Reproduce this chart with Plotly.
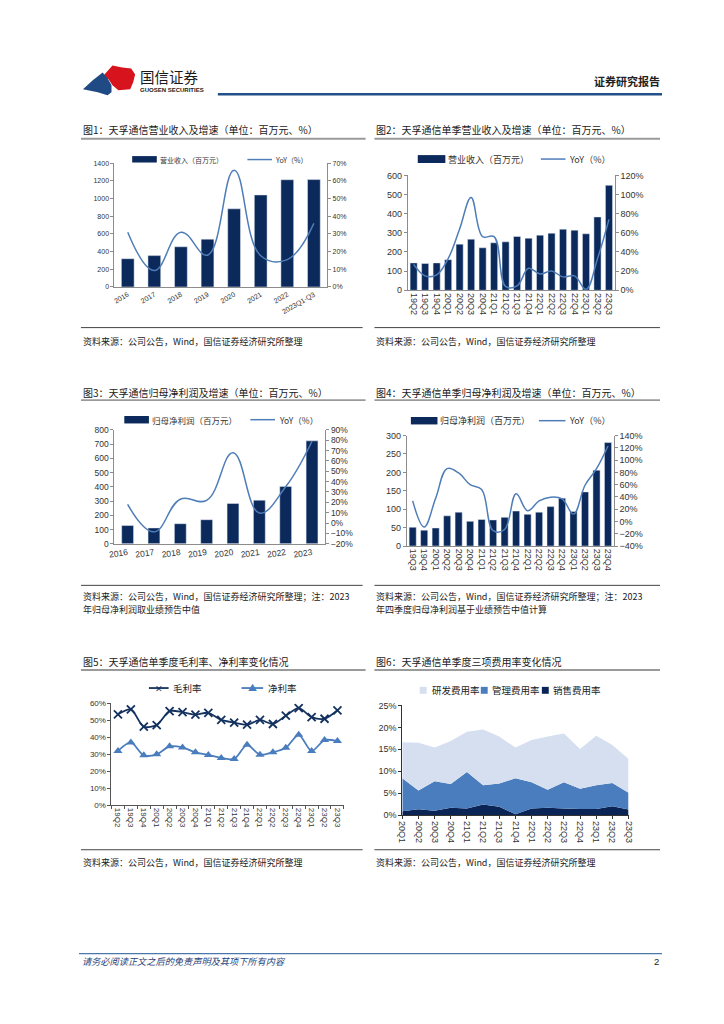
import plotly.graph_objects as go

W, H = 724, 1024
def X(px): return px / W
def Y(py): return 1 - py / H

# ---------------- data ----------------
years1 = ["2016", "2017", "2018", "2019", "2020", "2021", "2022", "2023Q1-Q3"]
rev_annual = [320, 355, 455, 541, 884, 1041, 1213, 1215]
rev_annual_yoy = [31, 9.3, 31, 18, 66, 17.7, 15.5, 36]

quarters2 = ["19Q2", "19Q3", "19Q4", "20Q1", "20Q2", "20Q3", "20Q4", "21Q1", "21Q2",
             "21Q3", "21Q4", "22Q1", "22Q2", "22Q3", "22Q4", "23Q1", "23Q2", "23Q3"]
rev_q = [143, 140, 143, 160, 241, 267, 222, 248, 253, 281, 272, 288, 298, 319, 314, 295, 383, 548]
rev_q_yoy = [27, 15, 16, 33, 64, 97, 56, 56, 4, 4.5, 23, 17, 20, 14, 15, 1, 33, 74]

years3 = ["2016", "2017", "2018", "2019", "2020", "2021", "2022", "2023"]
np_annual = [128, 111, 141, 169, 283, 306, 403, 723]
np_annual_yoy = [18, -8.5, 23, 22, 68, 9.7, 35, 79]

quarters4 = ["19Q3", "19Q4", "20Q1", "20Q2", "20Q3", "20Q4", "21Q1", "21Q2", "21Q3",
             "21Q4", "22Q1", "22Q2", "22Q3", "22Q4", "23Q1", "23Q2", "23Q3", "23Q4"]
np_q = [51, 43, 49, 82, 92, 67, 72, 71, 78, 95, 86, 92, 107, 130, 94, 147, 206, 281]
np_q_yoy = [33.6, -9, 38, 86, 79, 60, 52, -15, -13, 45, 17.5, 33.6, 39.6, 37, 12, 59, 86, 123]

quarters5 = ["19Q2", "19Q3", "19Q4", "20Q1", "20Q2", "20Q3", "20Q4", "21Q1", "21Q2",
             "21Q3", "21Q4", "22Q1", "22Q2", "22Q3", "22Q4", "23Q1", "23Q2", "23Q3"]
gross_margin = [53.6, 56.5, 46.3, 47.3, 55.5, 54.9, 53.4, 54.5, 50.3, 48.7, 47.5, 50.3, 47.9, 52.8, 57.3, 52, 51, 56]
net_margin = [32, 37, 29.4, 30, 34.7, 34.1, 31.2, 29.6, 27.9, 27.3, 35.6, 29.8, 31.2, 33.9, 41.5, 32, 38.4, 37.8]

quarters6 = ["20Q1", "20Q2", "20Q3", "20Q4", "21Q1", "21Q2", "21Q3", "21Q4",
             "22Q1", "22Q2", "22Q3", "22Q4", "23Q1", "23Q2", "23Q3"]
sales_rate = [0.9, 1.35, 1.0, 1.7, 1.5, 2.4, 1.9, 0.2, 1.5, 1.7, 1.5, 1.4, 1.4, 2.0, 1.3]
admin_rate = [7.5, 4.25, 6.7, 5.4, 8.3, 4.4, 5.3, 8.2, 6.0, 4.1, 6.0, 4.6, 5.4, 5.3, 3.8]
rd_rate = [8.2, 10.9, 7.7, 9.8, 9.2, 12.7, 10.7, 7.0, 9.6, 12.1, 11.1, 9.1, 11.3, 8.7, 7.7]

# ---------------- styles ----------------
NAVY = "#0b2a5b"
LINE = "#4f7db8"
LIGHT = "#d5dff0"
MID = "#4a7dbd"
DARK = "#0a2456"
CJK = "Noto Sans CJK SC"
NUMF = "Liberation Sans"
AXC = "#8c8c8c"

fig = go.Figure()

# Chart 1
fig.add_trace(go.Bar(x=years1, y=rev_annual, marker_color=NAVY, width=0.48, xaxis="x", yaxis="y"))
fig.add_trace(go.Scatter(x=years1, y=rev_annual_yoy, mode="lines", line=dict(color=LINE, width=1.5, shape="spline", smoothing=1.2),
                         xaxis="x", yaxis="y2"))
# Chart 2
fig.add_trace(go.Bar(x=quarters2, y=rev_q, marker_color=NAVY, width=0.62, xaxis="x2", yaxis="y3"))
fig.add_trace(go.Scatter(x=quarters2, y=rev_q_yoy, mode="lines", line=dict(color=LINE, width=1.5, shape="spline", smoothing=1.1),
                         xaxis="x2", yaxis="y4"))
# Chart 3
fig.add_trace(go.Bar(x=years3, y=np_annual, marker_color=NAVY, width=0.45, xaxis="x3", yaxis="y5"))
fig.add_trace(go.Scatter(x=years3, y=np_annual_yoy, mode="lines", line=dict(color=LINE, width=1.5, shape="spline", smoothing=1.2),
                         xaxis="x3", yaxis="y6"))
# Chart 4
fig.add_trace(go.Bar(x=quarters4, y=np_q, marker_color=NAVY, width=0.62, xaxis="x4", yaxis="y7"))
fig.add_trace(go.Scatter(x=quarters4, y=np_q_yoy, mode="lines", line=dict(color=LINE, width=1.5, shape="spline", smoothing=1.1),
                         xaxis="x4", yaxis="y8"))
# Chart 5
fig.add_trace(go.Scatter(x=quarters5, y=gross_margin, mode="lines+markers",
                         line=dict(color="#13315f", width=1.8, shape="spline", smoothing=0.8),
                         marker=dict(symbol="x-thin", size=8, line=dict(color="#13315f", width=1.8)),
                         xaxis="x5", yaxis="y9"))
fig.add_trace(go.Scatter(x=quarters5, y=net_margin, mode="lines+markers",
                         line=dict(color=MID, width=1.8, shape="spline", smoothing=0.8),
                         marker=dict(symbol="triangle-up", size=8, color=MID),
                         xaxis="x5", yaxis="y9"))
# Chart 6
fig.add_trace(go.Scatter(x=quarters6, y=sales_rate, stackgroup="s", mode="none", fillcolor=DARK, xaxis="x6", yaxis="y10"))
fig.add_trace(go.Scatter(x=quarters6, y=admin_rate, stackgroup="s", mode="none", fillcolor=MID, xaxis="x6", yaxis="y10"))
fig.add_trace(go.Scatter(x=quarters6, y=rd_rate, stackgroup="s", mode="none", fillcolor=LIGHT, xaxis="x6", yaxis="y10"))


def xaxis(x0, x1, anchor, n, angle, size, pad=True, linecolor=AXC, ticks=""):
    rng = [-0.5, n - 0.5] if pad else [0, n - 1]
    return dict(domain=[X(x0), X(x1)], anchor=anchor, type="category", range=rng,
                showline=True, linecolor=linecolor, linewidth=1, ticks=ticks, ticklen=3,
                tickcolor=linecolor, tickangle=angle, tickfont=dict(size=size, family=NUMF, color="#333"),
                showgrid=False, zeroline=False, fixedrange=True)


def yaxis(y_bottom, y_top, anchor, rng, dtick, size, suffix="", side="left", overlay=None, linecolor=AXC):
    d = dict(domain=[Y(y_bottom), Y(y_top)], anchor=anchor, range=rng, dtick=dtick, tick0=rng[0],
             showline=True, linecolor=linecolor, linewidth=1, ticks="outside", ticklen=3, tickcolor=linecolor,
             ticksuffix=suffix, tickfont=dict(size=size, family=NUMF, color="#333"), side=side,
             showgrid=False, zeroline=False, fixedrange=True)
    if overlay:
        d["overlaying"] = overlay
        d.pop("domain")
    return d


layout = dict(
    width=W, height=H, margin=dict(l=0, r=0, t=0, b=0),
    paper_bgcolor="white", plot_bgcolor="white", showlegend=False,
    font=dict(family=NUMF + ", " + CJK, size=8, color="#222"),
    xaxis=xaxis(102, 318, "y", 8, -30, 7),
    yaxis=yaxis(276.7, 151.7, "x", [0, 1400], 200, 7),
    yaxis2=yaxis(276.7, 151.7, "x", [0, 70], 10, 7, "%", "right", "y"),
    xaxis2=xaxis(400, 610, "y3", 18, 90, 9),
    yaxis3=yaxis(280, 164, "x2", [0, 600], 100, 9),
    yaxis4=yaxis(280, 164, "x2", [0, 120], 20, 9, "%", "right", "y3"),
    xaxis3=xaxis(102, 316, "y5", 8, -8, 8.5),
    yaxis5=yaxis(536, 421, "x3", [0, 800], 100, 8.5),
    yaxis6=yaxis(536, 421, "x3", [-20, 90], 10, 8.5, "%", "right", "y5"),
    xaxis4=xaxis(399, 609, "y7", 18, 90, 9),
    yaxis7=yaxis(538.3, 426.7, "x4", [0, 300], 50, 9),
    yaxis8=yaxis(538.3, 426.7, "x4", [-40, 140], 20, 9, "%", "right", "y7"),
    xaxis5=xaxis(99, 335, "y9", 18, 90, 8, linecolor="#555", ticks="outside"),
    yaxis9=yaxis(800, 697.3, "x5", [0, 60], 10, 8, "%", linecolor="#555"),
    xaxis6=xaxis(394.3, 624, "y10", 15, 90, 9, pad=False, linecolor="#333", ticks="outside"),
    yaxis10=yaxis(810, 699.3, "x6", [0, 25], 5, 9, "%", linecolor="#333"),
)
layout["xaxis5"]["tickson"] = "boundaries"
fig.update_layout(**layout)

shapes = []
ann = []


def hline(x0, x1, y, color, width):
    shapes.append(dict(type="line", xref="paper", yref="paper", x0=X(x0), x1=X(x1), y0=Y(y), y1=Y(y),
                       line=dict(color=color, width=width)))


def rect(x0, x1, y0, y1, color):
    shapes.append(dict(type="rect", xref="paper", yref="paper", x0=X(x0), x1=X(x1), y0=Y(y1), y1=Y(y0),
                       fillcolor=color, line=dict(width=0)))


def text(x, y, s, size, color="#222", family=CJK, xanchor="left", style="normal", weight="normal"):
    ann.append(dict(x=X(x), y=Y(y), xref="paper", yref="paper", text=s, showarrow=False,
                    xanchor=xanchor, yanchor="middle",
                    font=dict(size=size, color=color, family=family, style=style, weight=weight)))


def poly(points, color):
    path = "M " + " L ".join(f"{X(px):.5f},{Y(py):.5f}" for px, py in points) + " Z"
    shapes.append(dict(type="path", xref="paper", yref="paper", path=path, fillcolor=color, line=dict(width=0)))


# Header
poly([(90, 64), (100, 53), (110, 55), (119, 56), (123, 62), (121, 70), (118, 77), (106, 78), (100, 73), (96, 67)], "#d7141e")
poly([(70, 77), (80, 68), (90, 60), (95, 66), (99, 73), (99, 80), (95, 83), (85, 80)], "#1f4a83")
text(126, 64, "国信证券", 14.5, "#1a1a1a")
text(126, 77.5, "GUOSEN SECURITIES", 6, "#1a1a1a", family=NUMF, weight="bold")
hline(207, 658, 82, "#23508a", 2.5)
text(658, 69, "证券研究报告", 11, "#222", xanchor="right", weight="bold")

# Titles
titles = [
    (68, 118, "图1：天孚通信营业收入及增速（单位：百万元、%）", 68, 357, 127),
    (366, 118, "图2：天孚通信单季营业收入及增速（单位：百万元、%）", 366, 656, 127),
    (68, 383, "图3：天孚通信归母净利润及增速（单位：百万元、%）", 68, 357, 391),
    (366, 383, "图4：天孚通信单季归母净利润及增速（单位：百万元、%）", 366, 656, 391),
    (68, 655, "图5：天孚通信单季度毛利率、净利率变化情况", 68, 357, 663.5),
    (366, 655, "图6：天孚通信单季度三项费用率变化情况", 366, 656, 663.5),
]
for tx, ty, s, l0, l1, ly in titles:
    text(tx, ty, s, 10, "#1a1a1a")
    hline(l0, l1, ly, "#9a9a9a", 1.8)

# Sources
src = "资料来源：公司公告，Wind，国信证券经济研究所整理"
for x0, x1 in [(68, 354), (366, 656)]:
    hline(x0, x1, 317.7, "#444", 1)
    text(x0, 331.5, src, 9, "#222")
    hline(x0, x1, 578, "#444", 1)
    hline(x0, x1, 845, "#444", 1)
    text(x0, 858, src, 9, "#222")
text(68, 589, src + "；注：2023", 9, "#222")
text(68, 602, "年归母净利润取业绩预告中值", 9, "#222")
text(366, 589, src + "；注：2023", 9, "#222")
text(366, 602, "年四季度归母净利润基于业绩预告中值计算", 9, "#222")

# Legends
# chart1
rect(120, 145, 144.5, 151, NAVY)
text(146, 148, "营业收入（百万元）", 7, "#333")
hline(237, 262, 148, LINE, 1.5)
text(263, 148, "YoY（%）", 7, "#333")
# chart2
rect(410, 438, 143.5, 151.5, NAVY)
text(439, 147.5, "营业收入（百万元）", 9, "#333")
hline(535, 560, 147.5, LINE, 1.5)
text(562, 147.5, "YoY（%）", 9, "#333")
# chart3
rect(112, 137, 407, 414.5, NAVY)
text(138, 410.7, "归母净利润（百万元）", 8.5, "#333")
hline(240, 265, 410.7, LINE, 1.5)
text(267, 410.7, "YoY（%）", 8.5, "#333")
# chart4
rect(403, 430, 408, 415.5, NAVY)
text(431, 411.7, "归母净利润（百万元）", 9, "#333")
hline(533, 560, 411.7, LINE, 1.5)
text(562, 411.7, "YoY（%）", 9, "#333")
# chart5
hline(137, 157, 681.7, "#13315f", 1.8)
text(147, 681.7, "✕", 9, "#13315f", xanchor="center")
text(159, 681.7, "毛利率", 9.5, "#222")
hline(231, 253, 681.7, MID, 1.8)
text(242, 681.2, "▲", 9, MID, xanchor="center")
text(256, 681.7, "净利率", 9.5, "#222")
# chart6
rect(412, 419, 680.5, 687.5, LIGHT)
text(422, 684, "研发费用率", 9.5, "#222")
rect(474, 481, 680.5, 687.5, MID)
text(483, 684, "管理费用率", 9.5, "#222")
rect(536, 543, 680.5, 687.5, DARK)
text(545, 684, "销售费用率", 9.5, "#222")

# Footer
hline(66, 658, 950, "#4a78ad", 1.2)
text(67, 957.5, "请务必阅读正文之后的免责声明及其项下所有内容", 9.2, "#1f3f7a", style="italic")
text(657, 957.5, "2", 9.5, "#222", family=NUMF, xanchor="right")

fig.update_layout(shapes=shapes, annotations=ann)
fig.write_html("out.html")
